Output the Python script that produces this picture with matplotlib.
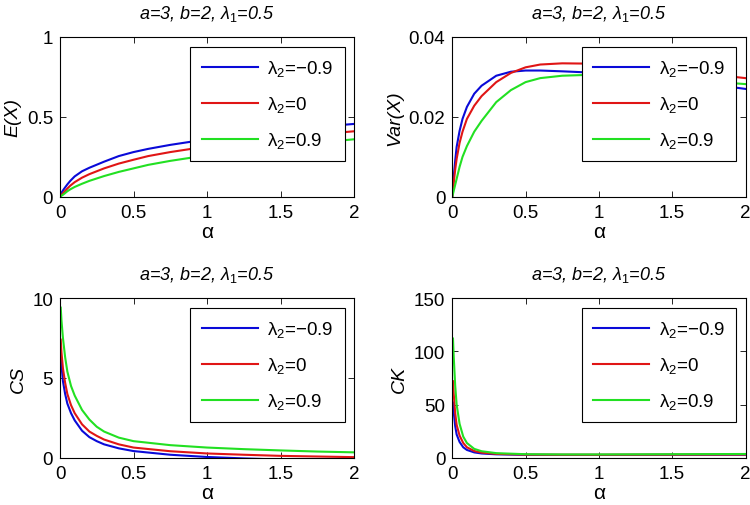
import matplotlib
matplotlib.use('Agg')
import matplotlib.pyplot as plt

plt.rcParams['font.family'] = ['Liberation Sans', 'DejaVu Sans']
plt.rcParams['mathtext.fontset'] = 'custom'
plt.rcParams['mathtext.rm'] = 'Liberation Sans'
plt.rcParams['mathtext.it'] = 'Liberation Sans:italic'

# valori
title_txt = r'a=3, b=2, λ$_\mathit{1}$=0.5'
labels = ['λ$_2$=−0.9', 'λ$_2$=0', 'λ$_2$=0.9']
colors = ['#0a0ad8', '#e01515', '#22e022']

alpha_ev = [0, 0.01, 0.02, 0.03, 0.05, 0.07, 0.1, 0.15, 0.2, 0.3, 0.4, 0.5, 0.6, 0.75, 1.0, 1.25, 1.5, 1.75, 2.0]
ex_blue = [0, 0.025, 0.04, 0.053, 0.078, 0.1, 0.128, 0.16, 0.182, 0.22, 0.255, 0.28, 0.30, 0.325, 0.36, 0.39, 0.415, 0.437, 0.456]
ex_red = [0, 0.012, 0.022, 0.032, 0.052, 0.07, 0.092, 0.12, 0.142, 0.178, 0.208, 0.232, 0.255, 0.28, 0.315, 0.345, 0.37, 0.39, 0.41]
ex_green = [0, 0.007, 0.013, 0.02, 0.035, 0.047, 0.062, 0.082, 0.1, 0.13, 0.156, 0.178, 0.20, 0.225, 0.26, 0.29, 0.315, 0.338, 0.36]

var_blue = [0, 0.005, 0.009, 0.0125, 0.0165, 0.0195, 0.0225, 0.0258, 0.0278, 0.0303, 0.0313, 0.0316, 0.0316, 0.0314, 0.031, 0.0302, 0.0293, 0.0282, 0.027]
var_red = [0, 0.0035, 0.0068, 0.0095, 0.0135, 0.0163, 0.0195, 0.0228, 0.0252, 0.0287, 0.031, 0.0324, 0.0331, 0.0334, 0.0333, 0.0325, 0.0317, 0.0307, 0.0297]
var_green = [0, 0.0015, 0.003, 0.0045, 0.0075, 0.01, 0.0127, 0.0163, 0.019, 0.0237, 0.0267, 0.0287, 0.0297, 0.0303, 0.0306, 0.0302, 0.0296, 0.0289, 0.0282]

alpha_cs = [0.005, 0.01, 0.02, 0.035, 0.05, 0.075, 0.1, 0.15, 0.2, 0.25, 0.3, 0.4, 0.5, 0.75, 1.0, 1.25, 1.5, 1.75, 2.0]
cs_blue = [6.6, 5.8, 4.8, 4.0, 3.4, 2.8, 2.35, 1.7, 1.3, 1.05, 0.85, 0.6, 0.43, 0.2, 0.06, -0.03, -0.1, -0.16, -0.22]
cs_red = [7.4, 6.6, 5.6, 4.7, 4.0, 3.3, 2.8, 2.1, 1.65, 1.38, 1.15, 0.85, 0.65, 0.42, 0.28, 0.2, 0.13, 0.09, 0.05]
cs_green = [9.4, 8.6, 7.5, 6.3, 5.4, 4.5, 3.9, 3.0, 2.4, 1.95, 1.65, 1.27, 1.05, 0.8, 0.65, 0.55, 0.47, 0.4, 0.35]

alpha_ck = [0.005, 0.01, 0.02, 0.03, 0.05, 0.075, 0.1, 0.15, 0.2, 0.3, 0.5, 0.75, 1.0, 1.5, 2.0]
ck_blue = [52, 43, 30, 22, 15, 10, 7.5, 5.2, 4.2, 3.4, 2.9, 2.8, 2.8, 2.9, 3.0]
ck_red = [72, 60, 42, 31, 21, 14, 10, 6.5, 5, 3.8, 3.1, 3.0, 3.0, 3.1, 3.2]
ck_green = [112, 95, 68, 50, 32, 20, 14, 8.5, 6.3, 4.5, 3.5, 3.3, 3.3, 3.5, 3.7]

x_ticks = [0, 0.5, 1, 1.5, 2]
x_ticklabels = ['0', '0.5', '1', '1.5', '2']

panels = [
    (alpha_ev, [ex_blue, ex_red, ex_green], 'E(X)', [0, 1], [0, 0.5, 1], ['0', '0.5', '1']),
    (alpha_ev, [var_blue, var_red, var_green], 'Var(X)', [0, 0.04], [0, 0.02, 0.04], ['0', '0.02', '0.04']),
    (alpha_cs, [cs_blue, cs_red, cs_green], 'CS', [0, 10], [0, 5, 10], ['0', '5', '10']),
    (alpha_ck, [ck_blue, ck_red, ck_green], 'CK', [0, 150], [0, 50, 100, 150], ['0', '50', '100', '150']),
]

positions = [
    [0.080, 0.609, 0.392, 0.316],
    [0.603, 0.609, 0.391, 0.316],
    [0.080, 0.093, 0.392, 0.316],
    [0.603, 0.093, 0.391, 0.316],
]

fig = plt.figure(figsize=(7.5, 5.06), dpi=100)

for (xs, series, ylab, ylim, yt, ytl), pos in zip(panels, positions):
    ax = fig.add_axes(pos)
    for ys, c, lab in zip(series, colors, labels):
        ax.plot(xs, ys, color=c, lw=1.5, label=lab)
    ax.set_xlim(0, 2)
    ax.set_ylim(ylim)
    ax.set_xticks(x_ticks, x_ticklabels)
    ax.set_yticks(yt, ytl)
    ax.tick_params(direction='in', top=True, right=True, length=4, width=0.6, labelsize=13.5, pad=5)
    for sp in ax.spines.values():
        sp.set_linewidth(0.8)
    ax.set_xlabel('α', fontsize=15, labelpad=1)
    ax.set_ylabel(ylab, fontsize=14, style='italic', labelpad=4)
    ax.set_title(title_txt, fontsize=13, style='italic', pad=14)
    leg = ax.legend(loc='upper right', bbox_to_anchor=(0.969, 0.9375), borderaxespad=0,
                    fontsize=13.5, frameon=True, fancybox=False, framealpha=1,
                    edgecolor='black', handlelength=3.0, labelspacing=0.85,
                    borderpad=0.6, handletextpad=0.5)
    leg.get_frame().set_linewidth(0.8)

plt.savefig('out.png', dpi=100)
